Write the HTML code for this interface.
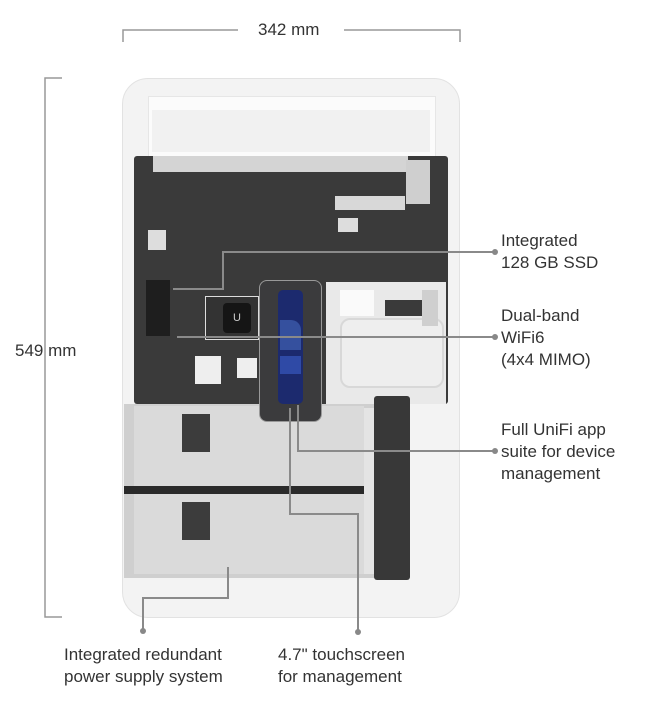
<!DOCTYPE html>
<html><head><meta charset="utf-8"><style>
body{margin:0;width:659px;height:721px;background:#fff;position:relative;overflow:hidden;font-family:"Liberation Sans",sans-serif;}
.a{position:absolute}
.t{position:absolute;font-size:17px;color:#333;line-height:22px;white-space:nowrap}
</style></head><body>
<div class="a" style="left:122px;top:78px;width:338px;height:540px;background:#f3f3f3;border:1px solid #e2e2e2;border-radius:26px;box-sizing:border-box"></div>
<div class="a" style="left:148px;top:96px;width:286px;height:60px;background:#fbfbfb;border:1px solid #e6e6e6"></div>
<div class="a" style="left:152px;top:110px;width:278px;height:42px;background:#f1f1f1"></div>
<div class="a" style="left:134px;top:156px;width:314px;height:248px;background:#3a3a3a;border-radius:3px"></div>
<div class="a" style="left:153px;top:156px;width:255px;height:16px;background:#d4d4d4"></div>
<div class="a" style="left:406px;top:160px;width:24px;height:44px;background:#cfcfcf"></div>
<div class="a" style="left:335px;top:196px;width:70px;height:14px;background:#d8d8d8"></div>
<div class="a" style="left:338px;top:218px;width:20px;height:14px;background:#ddd"></div>
<div class="a" style="left:148px;top:230px;width:18px;height:20px;background:#ddd"></div>
<div class="a" style="left:146px;top:280px;width:24px;height:56px;background:#1e1e1e"></div>
<div class="a" style="left:205px;top:296px;width:52px;height:42px;border:1px solid #ddd;background:#333"></div>
<div class="a" style="left:223px;top:303px;width:28px;height:30px;background:#151515;border-radius:4px;color:#ccc;font-size:11px;text-align:center;line-height:30px">U</div>
<div class="a" style="left:195px;top:356px;width:26px;height:28px;background:#eee"></div>
<div class="a" style="left:237px;top:358px;width:20px;height:20px;background:#eee"></div>
<div class="a" style="left:326px;top:282px;width:120px;height:122px;background:#e9e9e9"></div>
<div class="a" style="left:340px;top:318px;width:100px;height:66px;border:2px solid #d8d8d8;border-radius:10px;background:#eeeeee"></div>
<div class="a" style="left:340px;top:290px;width:34px;height:26px;background:#fafafa"></div>
<div class="a" style="left:385px;top:300px;width:44px;height:16px;background:#3a3a3a"></div>
<div class="a" style="left:422px;top:290px;width:16px;height:36px;background:#cfcfcf"></div>
<div class="a" style="left:124px;top:404px;width:252px;height:174px;background:#cfcfcf"></div>
<div class="a" style="left:134px;top:406px;width:230px;height:81px;background:#dadada"></div>
<div class="a" style="left:134px;top:493px;width:230px;height:81px;background:#dadada"></div>
<div class="a" style="left:124px;top:486px;width:252px;height:8px;background:#2a2a2a"></div>
<div class="a" style="left:182px;top:414px;width:28px;height:38px;background:#3c3c3c"></div>
<div class="a" style="left:182px;top:502px;width:28px;height:38px;background:#3c3c3c"></div>
<div class="a" style="left:374px;top:396px;width:36px;height:184px;background:#383838;border-radius:3px"></div>
<div class="a" style="left:364px;top:408px;width:10px;height:166px;background:#e4e4e4"></div>
<div class="a" style="left:259px;top:280px;width:63px;height:142px;background:#3b3b3d;border-radius:8px;border:1px solid #999;box-sizing:border-box"></div>
<div class="a" style="left:278px;top:290px;width:25px;height:114px;background:#1c2a6e;border-radius:5px"></div>
<div class="a" style="left:280px;top:320px;width:21px;height:30px;background:#35509e;border-radius:0 10px 0 0"></div>
<div class="a" style="left:280px;top:356px;width:21px;height:18px;background:#2f4aa6"></div>
<svg class="a" style="left:0;top:0" width="659" height="721">
<g stroke="#999" stroke-width="1.5" fill="none">
<path d="M123 42V30H238M344 30H460V42"/>
<path d="M62 78H45V617H62"/>
</g>
<g stroke="#8a8a8a" stroke-width="2" fill="none">
<path d="M495 252H223V289H173"/>
<path d="M495 337H177"/>
<path d="M495 451H298V405"/>
<path d="M290 408V514H358V632"/>
<path d="M228 567V598H143V630"/>
</g>
<g fill="#888"><circle cx="495" cy="252" r="3"/><circle cx="495" cy="337" r="3"/><circle cx="495" cy="451" r="3"/><circle cx="358" cy="632" r="3"/><circle cx="143" cy="631" r="3"/></g>
</svg>
<div class="t" style="left:258px;top:19px">342 mm</div>
<div class="t" style="left:15px;top:340px">549 mm</div>
<div class="t" style="left:501px;top:230px">Integrated<br>128 GB SSD</div>
<div class="t" style="left:501px;top:305px">Dual-band<br>WiFi6<br>(4x4 MIMO)</div>
<div class="t" style="left:501px;top:419px">Full UniFi app<br>suite for device<br>management</div>
<div class="t" style="left:64px;top:644px">Integrated redundant<br>power supply system</div>
<div class="t" style="left:278px;top:644px">4.7" touchscreen<br>for management</div>
</body></html>
